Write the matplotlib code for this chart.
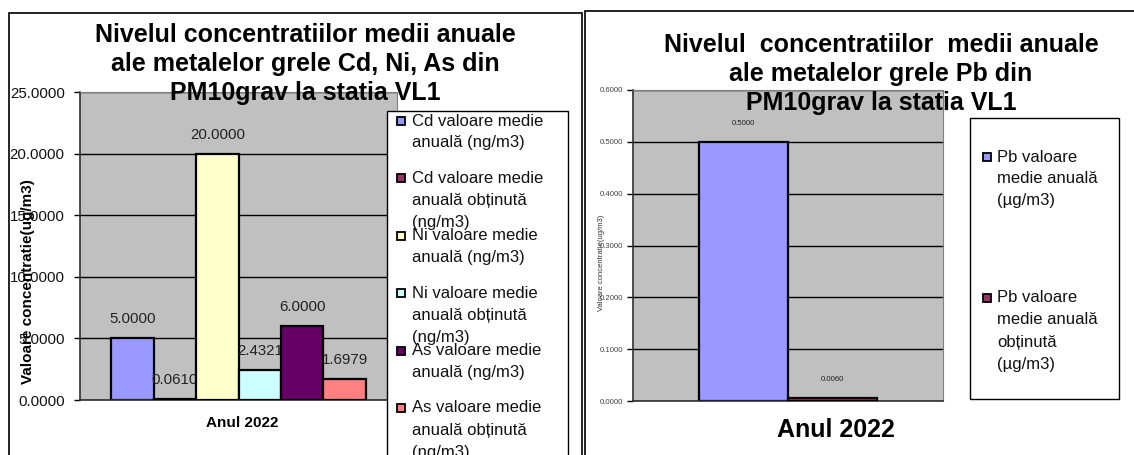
import numpy as np
import matplotlib
matplotlib.use("Agg")
import matplotlib.pyplot as plt
from matplotlib.patches import Rectangle

plt.rcParams['font.family'] = ['Liberation Sans', 'DejaVu Sans']

##################################################
# data
year = "Anul 2022"

metal_labels = ["Cd valoare medie\nanuală (ng/m3)",
                "Cd valoare medie\nanuală obținută\n(ng/m3)",
                "Ni valoare medie\nanuală (ng/m3)",
                "Ni valoare medie\nanuală obținută\n(ng/m3)",
                "As valoare medie\nanuală (ng/m3)",
                "As valoare medie\nanuală obținută\n(ng/m3)"]
metal_values = [5.0, 0.0610, 20.0, 2.4321, 6.0, 1.6979]
metal_colors = ['#9999FF', '#993366', '#FFFFCC', '#CCFFFF', '#660066', '#FF8080']
metal_ticks = [0, 5, 10, 15, 20, 25]

pb_labels = ["Pb valoare\nmedie anuală\n(µg/m3)",
             "Pb valoare\nmedie anuală\nobținută\n(µg/m3)"]
pb_values = [0.5, 0.006]
pb_colors = ['#9999FF', '#993366']
pb_ticks = [0.0, 0.1, 0.2, 0.3, 0.4, 0.5, 0.6]

title_left = ["Nivelul concentratiilor medii anuale",
              "ale metalelor grele Cd, Ni, As din",
              "PM10grav la statia VL1"]
title_right = ["Nivelul  concentratiilor  medii anuale",
               "ale metalelor grele Pb din",
               "PM10grav la statia VL1"]
ylabel = "Valoare concentratie(ug/m3)"

##################################################
W, H = 1134, 455
fig = plt.figure(figsize=(W/100, H/100), dpi=100)

def fx(x):
    return x/W

def fy(y):
    return 1 - y/H

def box(x0, y0, x1, y1, **kw):
    r = Rectangle((fx(x0), fy(y1)), fx(x1) - fx(x0), fy(y0) - fy(y1),
                  transform=fig.transFigure, **kw)
    fig.patches.append(r)

# outer chart frames (they run off the screenshot)
box(9, 13, 582, 470, fill=False, edgecolor='black', lw=1.2, zorder=-1)
box(585, 11, 1150, 470, fill=False, edgecolor='black', lw=1.2, zorder=-1)


def bar_chart(ax, values, colors, width, ticks, fmt_size, off, tick_size,
              tick_color, pad):
    ax.set_facecolor('#C0C0C0')
    n = len(values)
    pos = (np.arange(n) - (n - 1)/2.0)*width
    for i in range(n):
        ax.bar(pos[i], values[i], width, color=colors[i], edgecolor='black',
               linewidth=1.6, zorder=2 + 2*i)
        ax.annotate("%.4f" % values[i], (pos[i], values[i]),
                    xytext=(0, off), textcoords='offset pixels',
                    ha='center', va='center', fontsize=fmt_size,
                    color='#222222', zorder=3 + 2*i, annotation_clip=False)
    ax.set_xlim(-0.5, 0.5)
    ax.set_ylim(ticks[0], ticks[-1])
    ax.set_yticks(ticks)
    ax.set_yticklabels(["%.4f" % t for t in ticks], fontsize=tick_size,
                       color=tick_color)
    ax.tick_params(axis='y', direction='out', length=4, width=1, pad=pad)
    ax.set_xticks([])
    ax.yaxis.grid(True, color='black', linewidth=1.0, zorder=1)
    ax.set_axisbelow(True)
    for s in ['top', 'right']:
        ax.spines[s].set_color('#808080')
    for s in ['left', 'bottom']:
        ax.spines[s].set_color('#303030')
        ax.spines[s].set_linewidth(1.2)


##################################################
# left chart: Cd, Ni, As
axl = fig.add_axes([fx(80), fy(400), fx(397) - fx(80), fy(92) - fy(400)])
bar_chart(axl, metal_values, metal_colors, 0.134, metal_ticks, 10.8, 19,
          10.8, '#111111', 7)

for k, line in enumerate(title_left):
    fig.text(fx(305), fy(35 + 29*k), line, ha='center', va='center',
             fontsize=18, fontweight='bold', zorder=5)

fig.text(fx(28), fy(282), ylabel, rotation=90, ha='center', va='center',
         fontsize=11, fontweight='bold', zorder=5)
fig.text(fx(242), fy(423), year, ha='center', va='center', fontsize=11,
         fontweight='bold')

box(387, 111, 568, 470, facecolor='white', edgecolor='black', lw=1.0,
    zorder=4)
for i, lab in enumerate(metal_labels):
    y0 = 121 + 57.4*i
    box(397, y0 - 4, 405, y0 + 4, facecolor=metal_colors[i],
        edgecolor='black', lw=1.3, zorder=6)
    for k, line in enumerate(lab.split("\n")):
        fig.text(fx(412), fy(y0 + 22*k), line, ha='left', va='center',
                 fontsize=12, color='#111111', zorder=7)

##################################################
# right chart: Pb
axr = fig.add_axes([fx(633), fy(401), fx(943) - fx(633), fy(90) - fy(401)])
bar_chart(axr, pb_values, pb_colors, 0.287, pb_ticks, 5.6, 18, 5.6,
          '#444444', 3)

for k, line in enumerate(title_right):
    fig.text(fx(881), fy(45 + 29*k), line, ha='center', va='center',
             fontsize=18, fontweight='bold', zorder=5)

fig.text(fx(601), fy(263), ylabel, rotation=90, ha='center', va='center',
         fontsize=5.5, color='#333333', zorder=5)
fig.text(fx(836), fy(430), year, ha='center', va='center', fontsize=18,
         fontweight='bold')

box(970, 118, 1119, 399, facecolor='white', edgecolor='black', lw=1.0,
    zorder=4)
for i, lab in enumerate(pb_labels):
    y0 = 157 + 141*i
    box(983, y0 - 4, 991, y0 + 4, facecolor=pb_colors[i],
        edgecolor='black', lw=1.3, zorder=6)
    for k, line in enumerate(lab.split("\n")):
        fig.text(fx(997), fy(y0 + 22*k), line, ha='left', va='center',
                 fontsize=12, color='#111111', zorder=7)

fig.savefig("out.png", dpi=100)
